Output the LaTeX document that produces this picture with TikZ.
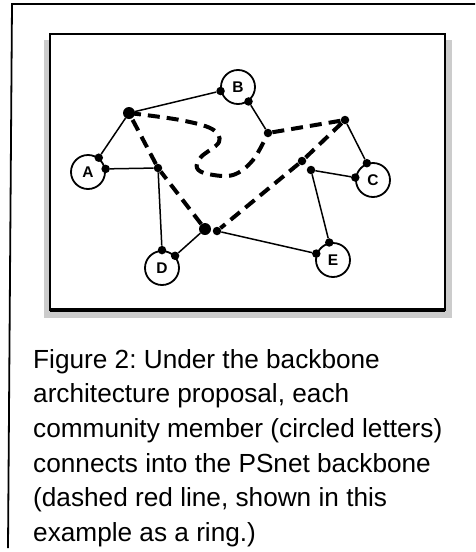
\documentclass[tikz,border=0pt]{standalone}
\usepackage{fontspec}
\setmainfont{Liberation Sans}
\usetikzlibrary{positioning}
\frenchspacing
\tikzset{
    member/.style = {draw, circle, line width=1.8pt, fill=white, minimum size=34pt, inner sep=0pt, font=\fontsize{15.5}{15.5}\selectfont\bfseries},
    port/.style = {circle, fill=black, inner sep=0pt, minimum size=8.5pt},
    hub/.style = {circle, fill=black, inner sep=0pt, minimum size=12pt},
    link/.style = {line width=1.5pt},
    backbone/.style = {line width=4pt, dash pattern=on 12pt off 7pt},
    caption-line/.style = {anchor=base west, inner sep=0pt, font=\fontsize{26.2}{34.7}\selectfont},
}
\begin{document}
\begin{tikzpicture}[x=1pt, y=-1pt]
\useasboundingbox (0,0) rectangle (475,552);
% frame round the figure
\draw[line width=1.8pt] (8,548) -- (12,4) -- (475,4);
% panel with its shadow
\fill[gray!40] (44,40) rectangle (452,318);
\draw[line width=2.2pt, fill=white] (50,34) rectangle (445,310);
\draw[line width=3.5pt] (50,310) -- (445,310);

% community members
\node[member] (A) at (88,172) {A};
\node[member] (B) at (238,87) {B};
\node[member] (C) at (373,180) {C};
\node[member] (D) at (162,268) {D};
\node[member] (E) at (333,260) {E};

% attachment points on the members
\node[port] (A-up) at (A.53) {};
\node[port] (A-right) at (A.10) {};
\node[port] (B-left) at (B.193) {};
\node[port] (B-down) at (B.306) {};
\node[port] (C-up) at (C.110) {};
\node[port] (C-left) at (C.172) {};
\node[port] (D-up) at (D.90) {};
\node[port] (D-right) at (D.43) {};
\node[port] (E-up) at (E.102) {};
\node[port] (E-left) at (E.159) {};

% backbone points
\node[hub] (h1) at (129,113) {};
\node[port] (h2) at (158,168) {};
\node[port] (h3) at (268,133) {};
\node[port] (h4) at (345,120) {};
\node[port] (h5) at (302,161) {};
\node[port] (h5b) at (311,170) {};
\node[hub] (h6) at (205,229) {};
\node[port] (h6b) at (217,231) {};

% member links
\draw[link] (h1) -- (B-left);
\draw[link] (h1) -- (A-up);
\draw[link] (A-right) -- (h2);
\draw[link] (h2) -- (D-up);
\draw[link] (B-down) -- (h3);
\draw[link] (h4) -- (C-up);
\draw[link] (h5b) -- (C-left);
\draw[link] (h5b) -- (E-up);
\draw[link] (h6) -- (D-right);
\draw[link] (h6b) -- (E-left);

% the ring
\draw[backbone] plot[smooth, tension=0.6] coordinates {(h1) (180,120) (212,129) (219,142) (201,157) (197,168) (208,174) (233,175) (253,160) (h3)};
\draw[backbone] (h3) -- (h4) -- (h5) -- (h6b);
\draw[backbone] (h6) -- (h2) -- (h1);

% caption
\foreach \txt [count=\i] in {{Figure 2: Under the backbone}, {architecture proposal, each}, {community member (circled letters)}, {connects into the PSnet backbone}, {(dashed red line, shown in this}, {example as a ring.)}}
    \node[caption-line] (cap\i) at (33,{368+34.7*(\i-1)}) {\txt};
\end{tikzpicture}
\end{document}
